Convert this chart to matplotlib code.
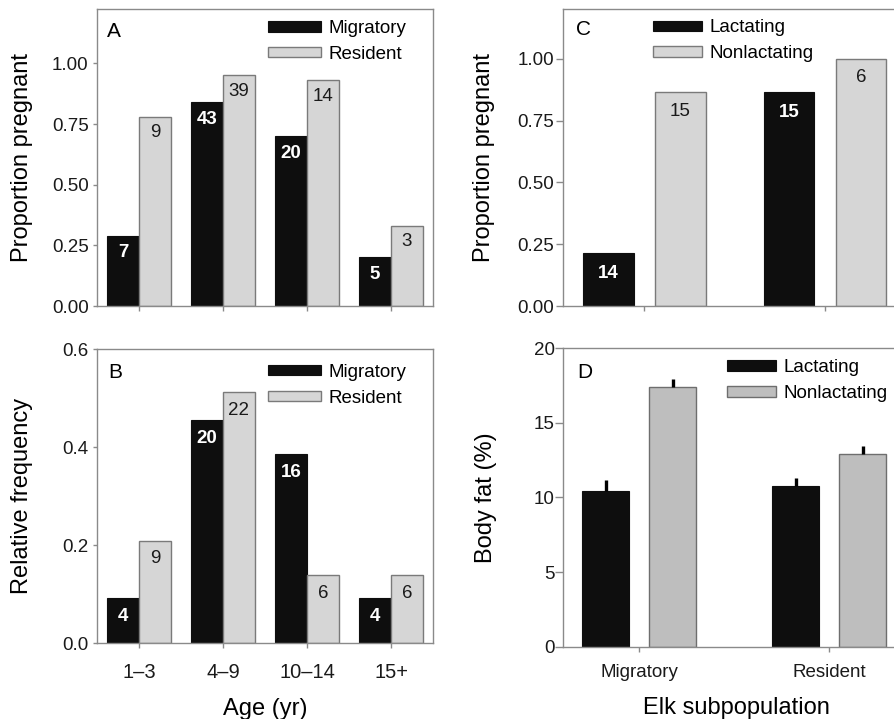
import numpy as np
import matplotlib
matplotlib.use('Agg')
import matplotlib.pyplot as plt

plt.rcParams['font.family'] = ['Liberation Sans', 'DejaVu Sans']

# Paneles A y B: clases de edad
clases_edad = ['1–3', '4–9', '10–14', '15+']
prenez_migratorio = [0.29, 0.84, 0.70, 0.20]
prenez_residente = [0.78, 0.95, 0.93, 0.33]
n_prenez_migratorio = [7, 43, 20, 5]
n_prenez_residente = [9, 39, 14, 3]

frec_migratorio = [0.092, 0.455, 0.386, 0.092]
frec_residente = [0.209, 0.512, 0.139, 0.139]
n_frec_migratorio = [4, 20, 16, 4]
n_frec_residente = [9, 22, 6, 6]

# Paneles C y D: subpoblaciones
subpoblaciones = ['Migratory', 'Resident']
prenez_lactante = [0.213, 0.866]
prenez_no_lactante = [0.866, 1.00]
n_lactante = [14, 15]
n_no_lactante = [15, 6]

grasa_lactante = [10.45, 10.75]
grasa_no_lactante = [17.43, 12.89]
ee_lactante = [0.71, 0.53]
ee_no_lactante = [0.54, 0.58]

NEGRO = '#0e0e0e'
GRIS = '#d6d6d6'
GRIS_D = '#bebebe'
BORDE = '#7a7a7a'
EJE = '#8a8a8a'


def estilo_ejes(ax, largo, sep):
    for s in ax.spines.values():
        s.set_color(EJE)
        s.set_linewidth(1.0)
    ax.tick_params(axis='both', colors=EJE, width=1.0, labelcolor='#1a1a1a')
    ax.tick_params(axis='x', length=3.5)
    ax.tick_params(axis='y', labelsize=13.5, length=largo, pad=sep)


def etiquetar(ax, x, alturas, numeros, color, peso, desplaz):
    for xi, h, n in zip(x, alturas, numeros):
        ax.annotate(str(n), (xi, h), xytext=(0, -desplaz), textcoords='offset pixels',
                    ha='center', va='center', color=color, fontsize=13.5, fontweight=peso)


def leyenda(ax, x, y, ancho):
    ax.legend(loc='upper left', bbox_to_anchor=(x, y), frameon=False, fontsize=13.5,
              handlelength=ancho, handleheight=0.47, handletextpad=0.4,
              labelspacing=0.47, borderpad=0, borderaxespad=0)


fig = plt.figure(figsize=(8.95, 7.19), dpi=100)
axA = fig.add_axes([0.1084, 0.5744, 0.3754, 0.4131])
axB = fig.add_axes([0.1084, 0.1053, 0.3754, 0.4089])
axC = fig.add_axes([0.6294, 0.5744, 0.3829, 0.4131])
axD = fig.add_axes([0.6294, 0.1006, 0.3821, 0.4150])

x4 = np.arange(len(clases_edad))
w = 0.38

# A
axA.bar(x4 - w / 2, prenez_migratorio, w, color=NEGRO, edgecolor=NEGRO, linewidth=0.8, label='Migratory')
axA.bar(x4 + w / 2, prenez_residente, w, color=GRIS, edgecolor=BORDE, linewidth=1.0, label='Resident')
etiquetar(axA, x4 - w / 2, prenez_migratorio, n_prenez_migratorio, 'white', 'bold', 17)
etiquetar(axA, x4 + w / 2, prenez_residente, n_prenez_residente, '#1a1a1a', 'normal', 16)
axA.set_xlim(-0.5, 3.5)
axA.set_ylim(0, 1.224)
axA.set_yticks([0, 0.25, 0.5, 0.75, 1.0])
axA.set_yticklabels(['0.00', '0.25', '0.50', '0.75', '1.00'])
axA.set_xticks(x4)
axA.set_xticklabels([])
axA.set_ylabel('Proportion pregnant', fontsize=17)
axA.yaxis.set_label_coords(-0.19, 0.5)
axA.text(0.03, 0.906, 'A', transform=axA.transAxes, fontsize=15, ha='left', va='baseline')
leyenda(axA, 0.509, 0.9625, 2.8)

# B
axB.bar(x4 - w / 2, frec_migratorio, w, color=NEGRO, edgecolor=NEGRO, linewidth=0.8, label='Migratory')
axB.bar(x4 + w / 2, frec_residente, w, color=GRIS, edgecolor=BORDE, linewidth=1.0, label='Resident')
etiquetar(axB, x4 - w / 2, frec_migratorio, n_frec_migratorio, 'white', 'bold', 18)
etiquetar(axB, x4 + w / 2, frec_residente, n_frec_residente, '#1a1a1a', 'normal', 18)
axB.set_xlim(-0.5, 3.5)
axB.set_ylim(0, 0.6)
axB.set_yticks([0, 0.2, 0.4, 0.6])
axB.set_yticklabels(['0.0', '0.2', '0.4', '0.6'])
axB.set_xticks(x4)
axB.set_xticklabels(clases_edad)
axB.tick_params(axis='x', labelsize=14.5, pad=11)
axB.set_ylabel('Relative frequency', fontsize=17)
axB.yaxis.set_label_coords(-0.19, 0.5)
axB.set_xlabel('Age (yr)', fontsize=17)
axB.xaxis.set_label_coords(0.5, -0.185)
axB.text(0.033, 0.902, 'B', transform=axB.transAxes, fontsize=15, ha='left', va='baseline')
leyenda(axB, 0.509, 0.951, 2.8)

# C
x2 = np.arange(len(subpoblaciones))
wc = 0.28
axC.bar(x2 - 0.2, prenez_lactante, wc, color=NEGRO, edgecolor=NEGRO, linewidth=0.8, label='Lactating')
axC.bar(x2 + 0.2, prenez_no_lactante, wc, color=GRIS, edgecolor=BORDE, linewidth=1.0, label='Nonlactating')
etiquetar(axC, x2 - 0.2, prenez_lactante, n_lactante, 'white', 'bold', 20)
etiquetar(axC, x2 + 0.2, prenez_no_lactante, n_no_lactante, '#1a1a1a', 'normal', 19)
axC.set_xlim(-0.45, 1.45)
axC.set_ylim(0, 1.202)
axC.set_yticks([0, 0.25, 0.5, 0.75, 1.0])
axC.set_yticklabels(['0.00', '0.25', '0.50', '0.75', '1.00'])
axC.set_xticks(x2)
axC.set_xticklabels([])
axC.set_ylabel('Proportion pregnant', fontsize=17)
axC.yaxis.set_label_coords(-0.199, 0.5)
axC.text(0.037, 0.912, 'C', transform=axC.transAxes, fontsize=15, ha='left', va='baseline')
leyenda(axC, 0.262, 0.965, 2.6)

# D
wd = 0.248
axD.bar(x2 - 0.176, grasa_lactante, wd, color=NEGRO, edgecolor=NEGRO, linewidth=0.8, label='Lactating')
axD.bar(x2 + 0.176, grasa_no_lactante, wd, color=GRIS_D, edgecolor='#6e6e6e', linewidth=1.0, label='Nonlactating')
axD.errorbar(x2 - 0.176, grasa_lactante, yerr=[np.zeros(2), ee_lactante], fmt='none',
             ecolor='black', elinewidth=2.4, capsize=0)
axD.errorbar(x2 + 0.176, grasa_no_lactante, yerr=[np.zeros(2), ee_no_lactante], fmt='none',
             ecolor='black', elinewidth=2.4, capsize=0)
axD.set_xlim(-0.4, 1.4)
axD.set_ylim(0, 20)
axD.set_yticks([0, 5, 10, 15, 20])
axD.set_xticks(x2)
axD.set_xticklabels(subpoblaciones)
axD.tick_params(axis='x', labelsize=13.5, pad=9)
axD.set_ylabel('Body fat (%)', fontsize=17)
axD.yaxis.set_label_coords(-0.195, 0.5)
axD.set_xlabel('Elk subpopulation', fontsize=17)
axD.xaxis.set_label_coords(0.507, -0.168)
axD.text(0.042, 0.900, 'D', transform=axD.transAxes, fontsize=15, ha='left', va='baseline')
leyenda(axD, 0.478, 0.963, 2.6)

estilo_ejes(axA, 3, 3)
estilo_ejes(axB, 3, 3)
estilo_ejes(axC, 5, 1.5)
estilo_ejes(axD, 5.5, 0.8)

fig.savefig('out.png', dpi=100)
plt.close(fig)
